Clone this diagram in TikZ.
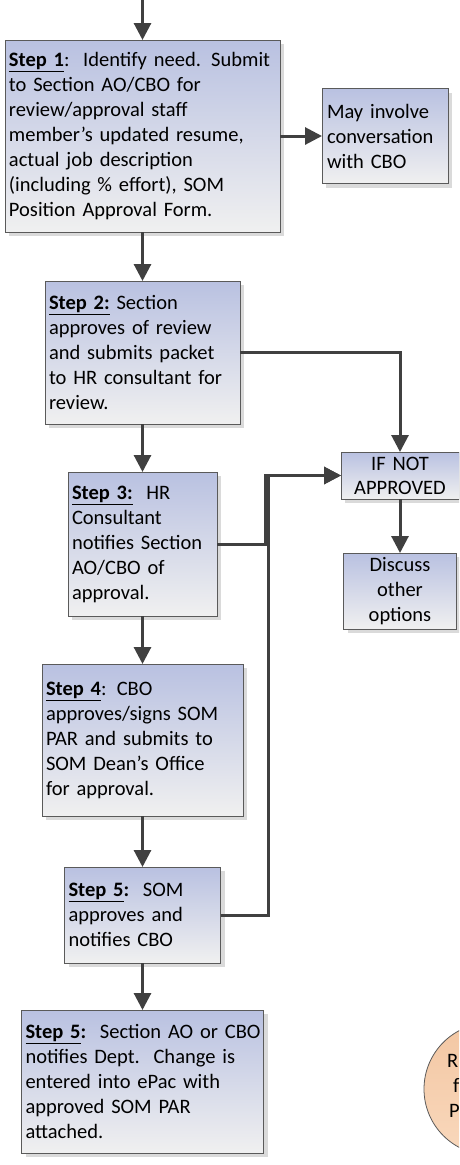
\documentclass[tikz,border=0pt]{standalone}
\usepackage{fontspec}
\setmainfont{Carlito}
\usetikzlibrary{arrows.meta, positioning, shadows}

\definecolor{boxtop}{RGB}{185,193,225}
\definecolor{boxbot}{RGB}{240,240,240}
\definecolor{framegray}{RGB}{90,90,90}
\definecolor{linegray}{RGB}{64,64,64}
\definecolor{shadowgray}{RGB}{218,218,218}
\definecolor{peachtop}{RGB}{243,199,163}
\definecolor{peachbot}{RGB}{249,216,188}

\begin{document}
\begin{tikzpicture}[x=1pt, y=-1pt,
		every node/.style={font=\fontsize{20.5}{25}\selectfont, outer sep=0pt},
		box/.style={draw=framegray, line width=0.8pt, rectangle, top color=boxtop, bottom color=boxbot,
			inner xsep=4pt, inner ysep=2pt, align=left,
			execute at begin node={\hyphenpenalty=10000\exhyphenpenalty=10000},
			drop shadow={shadow xshift=4pt, shadow yshift=-4pt, fill=shadowgray, opacity=1}},
		arr/.style={draw=linegray, line width=3pt, -{Triangle[length=17pt, width=17pt]}}]
	\useasboundingbox (0,0) rectangle (459,1165);
	\clip (0,0) rectangle (459,1165);

	\coordinate (start) at (142.5,0);
	\node (s1) [box, anchor=north west, minimum width=275pt, minimum height=192pt, text width=267pt] at (5,40) {
		\underline{\textbf{Step 1}}:\ \ Identify need. Submit\\
		to Section AO/CBO for\\
		review/approval staff\\
		member’s updated resume,\\
		actual job description\\
		(including \% effort), SOM\\
		Position Approval Form.
	};
	\node (cbo) [box, right=42pt of s1, minimum width=126pt, minimum height=95pt, text width=116pt] {
		May involve\\
		conversation\\
		with CBO
	};
	\node (s2) [box, below=49pt of s1, minimum width=195pt, minimum height=143pt, text width=187pt] {
		\underline{\textbf{Step 2:}} Section\\
		approves of review\\
		and submits packet\\
		to HR consultant for\\
		review.
	};
	\node (s3) [box, below=48pt of s2, minimum width=149pt, minimum height=144pt, text width=141pt] {
		\underline{\textbf{Step 3:}}\ \ HR\\
		Consultant\\
		notifies Section\\
		AO/CBO of\\
		approval.
	};
	\node (s4) [box, below=48pt of s3, minimum width=201pt, minimum height=152pt, text width=193pt] {
		\underline{\textbf{Step 4}}: CBO\\
		approves/signs SOM\\
		PAR and submits to\\
		SOM Dean’s Office\\
		for approval.
	};
	\node (s5) [box, below=51pt of s4, minimum width=156pt, minimum height=96pt, text width=148pt] {
		\underline{\textbf{Step 5}}\textbf{:}\ \ SOM\\
		approves and\\
		notifies CBO
	};
	\node (s6) [box, below=47pt of s5, minimum width=242pt, minimum height=143pt, text width=234pt] {
		\underline{\textbf{Step 5}}\textbf{:}~~Section~AO~or~CBO\\
		notifies Dept.\ \ Change is\\
		entered into ePac with\\
		approved SOM PAR\\
		attached.
	};
	\node (notok) [box, align=center, anchor=north west, minimum width=118pt, minimum height=47pt, text width=110pt,
		font=\fontsize{20.5}{24}\selectfont] at (341,452) {
		IF NOT\\
		APPROVED
	};
	\node (other) [box, align=center, below=54pt of notok, minimum width=113pt, minimum height=76pt, text width=105pt] {
		Discuss\\
		other\\
		options
	};
	\node (loop) [circle, draw=framegray, line width=0.8pt, top color=peachtop, bottom color=peachbot, minimum size=132pt] at (490,1089) {};
	\node (looptxt) [align=left, anchor=north west, inner sep=0pt] at (447,1054) {
		R\\
		\hspace*{6pt}f\\
		\hspace*{2pt}P
	};

	\draw [arr] (start) -- (s1);
	\draw [arr] (s1) -- (cbo);
	\draw [arr] (s1) -- (s2);
	\draw [arr] (s2) -- (s3);
	\draw [arr] (s3) -- (s4);
	\draw [arr] (s4) -- (s5);
	\draw [arr] (s5) -- (s6);
	\draw [arr] (s2.east) -| (notok.north);
	\draw [arr] (s3.east) -- ++(48pt,0) |- (notok.west);
	\draw [arr] (s5.east) -- ++(48pt,0) |- (notok.west);
	\draw [arr] (notok) -- (other);
\end{tikzpicture}
\end{document}
